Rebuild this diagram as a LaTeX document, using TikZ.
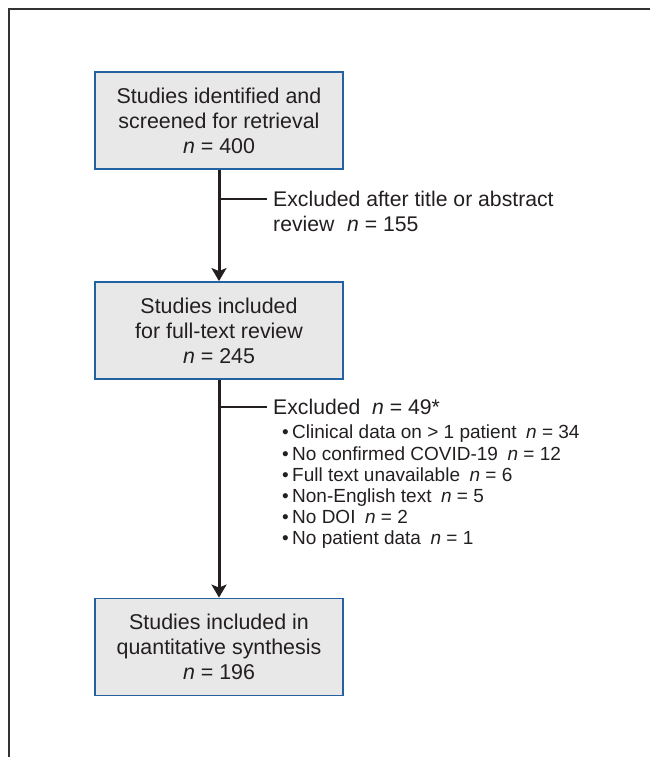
\documentclass[tikz,border=0pt]{standalone}
\usepackage{fontspec}
\setmainfont{Liberation Sans}
\usetikzlibrary{arrows.meta}
\definecolor{boxblue}{HTML}{2262A2}
\definecolor{boxfill}{HTML}{E8E8E8}
\definecolor{ink}{HTML}{231F20}
\definecolor{framegray}{HTML}{333333}
\begin{document}
\begin{tikzpicture}[x=1pt,y=-1pt,
  stepbox/.style={draw=boxblue, fill=boxfill, line width=1.8pt, minimum width=248pt,
    minimum height=97pt, inner sep=0pt, align=center, text=ink,
    font=\fontsize{21.4}{25}\selectfont},
  flow/.style={draw=ink, line width=3pt, -{Stealth[length=13pt,width=15pt,inset=3pt]}},
  branch/.style={draw=ink, line width=1.5pt},
  note/.style={anchor=north west, inner sep=0pt, align=left, text=ink,
    font=\fontsize{21.2}{25}\selectfont},
  bullets/.style={anchor=north west, inner sep=0pt, align=left, text=ink,
    font=\fontsize{19}{21.2}\selectfont}]
\useasboundingbox (0,0) rectangle (650,757);
\draw[framegray, line width=2pt] (9,757) -- (9,9) -- (650,9);

\node[stepbox] (box1) at (219,120.5) {Studies identified and\\screened for retrieval\\\textit{n} = 400};
\node[stepbox] (box2) at (219,330.5) {Studies included\\for full-text review\\\textit{n} = 245};
\node[stepbox] (box3) at (219,647) {Studies included in\\quantitative synthesis\\\textit{n} = 196};

\node[note] (exc1) at (273,191) {Excluded after title or abstract\\review\hspace{0.6em}\textit{n} = 155};
\node[note] (exc2) at (273,399) {Excluded\hspace{0.55em}\textit{n} = 49*};
\node[bullets] (list) at (278,425) {%
\makebox[14pt][l]{\hspace{4pt}•}Clinical data on > 1 patient\hspace{0.5em}\textit{n} = 34\\
\makebox[14pt][l]{\hspace{4pt}•}No confirmed COVID-19\hspace{0.5em}\textit{n} = 12\\
\makebox[14pt][l]{\hspace{4pt}•}Full text unavailable\hspace{0.5em}\textit{n} = 6\\
\makebox[14pt][l]{\hspace{4pt}•}Non-English text\hspace{0.5em}\textit{n} = 5\\
\makebox[14pt][l]{\hspace{4pt}•}No DOI\hspace{0.5em}\textit{n} = 2\\
\makebox[14pt][l]{\hspace{4pt}•}No patient data\hspace{0.5em}\textit{n} = 1};

\coordinate (e1) at (267,199);
\coordinate (e2) at (267,407);

\draw[flow] (box1.south) -- (box2.north);
\draw[flow] (box2.south) -- (box3.north);
\draw[branch] (box1.south |- e1) -- (e1);
\draw[branch] (box2.south |- e2) -- (e2);
\end{tikzpicture}
\end{document}
